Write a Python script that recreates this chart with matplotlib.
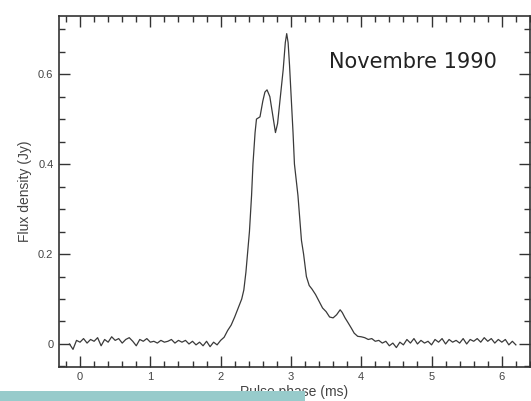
import numpy as np
import matplotlib.pyplot as plt
from matplotlib.ticker import MultipleLocator
from matplotlib.patches import Rectangle

# Profil moyen du pulsar (phase en ms, densité de flux en Jy)
temps_avant = [-0.15, -0.10, -0.05, 0.00, 0.05, 0.10, 0.15, 0.20, 0.25, 0.30,
               0.35, 0.40, 0.45, 0.50, 0.55, 0.60, 0.65, 0.70, 0.75, 0.80,
               0.85, 0.90, 0.95, 1.00, 1.05, 1.10, 1.15, 1.20, 1.25, 1.30,
               1.35, 1.40, 1.45, 1.50, 1.55, 1.60, 1.65, 1.70, 1.75, 1.80,
               1.85, 1.90, 1.95, 2.00]
flux_avant = [0.000, -0.012, 0.008, 0.004, 0.012, 0.002, 0.010, 0.006, 0.014, -0.004,
              0.010, 0.004, 0.016, 0.008, 0.012, 0.002, 0.010, 0.014, 0.006, -0.004,
              0.010, 0.006, 0.012, 0.004, 0.006, 0.002, 0.008, 0.004, 0.006, 0.010,
              0.002, 0.008, 0.004, 0.008, 0.000, 0.006, -0.002, 0.004, -0.004, 0.006,
              -0.006, 0.004, -0.002, 0.008]

temps_pulse = [2.05, 2.10, 2.15, 2.20, 2.25, 2.30, 2.33, 2.36, 2.39, 2.41,
               2.44, 2.46, 2.49, 2.51, 2.56, 2.60, 2.63, 2.66, 2.70, 2.74,
               2.78, 2.81, 2.84, 2.89, 2.92, 2.94, 2.96, 2.98, 3.01, 3.03,
               3.05, 3.10, 3.15, 3.18, 3.22, 3.26, 3.30, 3.35, 3.40, 3.45,
               3.50, 3.55, 3.60, 3.65, 3.70, 3.73, 3.77, 3.81, 3.86, 3.90,
               3.95, 4.00]
flux_pulse = [0.015, 0.030, 0.042, 0.060, 0.080, 0.100, 0.120, 0.160, 0.215, 0.250,
              0.330, 0.400, 0.470, 0.500, 0.505, 0.540, 0.560, 0.565, 0.550, 0.510,
              0.470, 0.490, 0.535, 0.610, 0.670, 0.690, 0.670, 0.620, 0.530, 0.470,
              0.400, 0.330, 0.230, 0.200, 0.150, 0.130, 0.122, 0.110, 0.095, 0.080,
              0.072, 0.060, 0.058, 0.065, 0.076, 0.070, 0.058, 0.048, 0.035, 0.024,
              0.017, 0.016]

temps_apres = [4.05, 4.10, 4.15, 4.20, 4.25, 4.30, 4.35, 4.40, 4.45, 4.50,
               4.55, 4.60, 4.65, 4.70, 4.75, 4.80, 4.85, 4.90, 4.95, 5.00,
               5.05, 5.10, 5.15, 5.20, 5.25, 5.30, 5.35, 5.40, 5.45, 5.50,
               5.55, 5.60, 5.65, 5.70, 5.75, 5.80, 5.85, 5.90, 5.95, 6.00,
               6.05, 6.10, 6.15, 6.20]
flux_apres = [0.014, 0.010, 0.012, 0.006, 0.008, 0.002, 0.006, -0.004, 0.002, -0.008,
              0.004, -0.002, 0.010, 0.002, 0.012, 0.000, 0.008, 0.002, 0.006, -0.002,
              0.010, 0.004, 0.012, 0.000, 0.010, 0.004, 0.008, 0.002, 0.012, 0.000,
              0.010, 0.006, 0.012, 0.004, 0.014, 0.006, 0.012, 0.002, 0.010, 0.004,
              0.010, -0.002, 0.006, -0.002]

temps = temps_avant + temps_pulse + temps_apres
flux = flux_avant + flux_pulse + flux_apres

# Figure
fig = plt.figure(figsize=(5.31, 4.01), dpi=100)
ax = fig.add_axes([0.111, 0.085, 0.887, 0.876])

ax.plot(temps, flux, color='#3a3a3a', lw=0.9)

ax.set_xlim(-0.30, 6.40)
ax.set_ylim(-0.051, 0.730)

ax.xaxis.set_major_locator(MultipleLocator(1))
ax.xaxis.set_minor_locator(MultipleLocator(0.2))
ax.yaxis.set_major_locator(MultipleLocator(0.2))
ax.yaxis.set_minor_locator(MultipleLocator(0.05))
ax.yaxis.set_major_formatter(lambda v, pos: '0' if abs(v) < 1e-9 else f'{v:.1f}')

ax.tick_params(which='both', direction='in', top=True, right=True,
               colors='#333333', labelcolor='#444444', labelsize=8, width=1)
ax.tick_params(which='major', length=8, pad=4)
ax.tick_params(which='minor', length=4)
for lab in ax.get_xticklabels() + ax.get_yticklabels():
    lab.set_family('Liberation Sans')
for s in ax.spines.values():
    s.set_color('#333333')
    s.set_linewidth(1.2)

ax.set_xlabel('Pulse phase (ms)', fontsize=10, color='#444444', labelpad=2,
              family='Liberation Sans')
ax.set_ylabel('Flux density (Jy)', fontsize=10, color='#444444', labelpad=4,
              family='Liberation Sans')

ax.text(4.73, 0.627, 'Novembre 1990', fontsize=15, color='#222222',
        ha='center', va='center')

# Bandeau en bas à gauche
fig.patches.append(Rectangle((0, 0), 305 / 531, 10 / 401, transform=fig.transFigure,
                             facecolor='#97cbcb', edgecolor='none', zorder=10))

fig.savefig('out.png', dpi=100)
